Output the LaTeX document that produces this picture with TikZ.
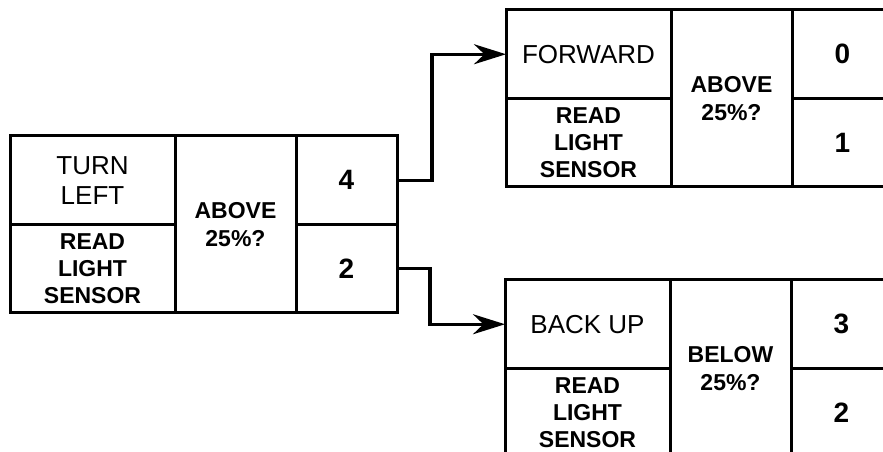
\documentclass[tikz,border=0pt]{standalone}
\usepackage{fontspec}
\setmainfont{Liberation Sans}
\setsansfont{Liberation Sans}
\usetikzlibrary{arrows.meta, positioning}
\tikzset{
  font=\sffamily,
  cell/.style={draw=black, line width=3pt, inner sep=0pt, outer sep=0pt,
    align=center, minimum width=165pt, minimum height=88.5pt},
  actcell/.style={cell, font=\fontsize{26}{30}\selectfont},
  readcell/.style={cell, font=\bfseries\fontsize{23}{27}\selectfont},
  testcell/.style={cell, minimum width=121pt, minimum height=177pt,
    font=\bfseries\fontsize{23}{28}\selectfont},
  numcell/.style={cell, minimum width=101pt, font=\bfseries\fontsize{28}{32}\selectfont},
  flow/.style={-{Stealth[length=32pt, width=20pt]}, line width=3.2pt, draw=black},
}

\begin{document}
\begin{tikzpicture}[x=1pt, y=1pt]
  \clip (0,0) rectangle (883,452);

  % ----------------------------------------------------------------
  % Start state: turn left
  % ----------------------------------------------------------------
  \node[actcell, anchor=north west] (turn) at (10,316) {TURN\\LEFT};
  \node[readcell, below=0pt of turn] (read1) {READ\\LIGHT\\SENSOR};
  \node[testcell, anchor=north west] (test1) at (turn.north east) {ABOVE\\25\%?};
  \node[numcell, anchor=north west] (go4) at (test1.north east) {4};
  \node[numcell, below=0pt of go4] (go2) {2};

  % ----------------------------------------------------------------
  % State 4: forward
  % ----------------------------------------------------------------
  \node[actcell, anchor=north west] (fwd) at (506,442) {FORWARD};
  \node[readcell, below=0pt of fwd] (read4) {READ\\LIGHT\\SENSOR};
  \node[testcell, anchor=north west] (test4) at (fwd.north east) {ABOVE\\25\%?};
  \node[numcell, anchor=north west] (go0) at (test4.north east) {0};
  \node[numcell, below=0pt of go0] (go1) {1};

  % ----------------------------------------------------------------
  % State 2: back up
  % ----------------------------------------------------------------
  \node[actcell, anchor=north west] (back) at (505,172) {BACK UP};
  \node[readcell, below=0pt of back] (read2) {READ\\LIGHT\\SENSOR};
  \node[testcell, anchor=north west] (test2) at (back.north east) {BELOW\\25\%?};
  \node[numcell, anchor=north west] (go3) at (test2.north east) {3};
  \node[numcell, below=0pt of go3] (go2b) {2};

  % ----------------------------------------------------------------
  % Arrows
  % ----------------------------------------------------------------
  \draw[flow] (go4.east) -- ++(35,0) |- (fwd.west);
  \draw[flow] (go2.east) -- ++(33,0) |- (back.west);

\end{tikzpicture}
\end{document}
